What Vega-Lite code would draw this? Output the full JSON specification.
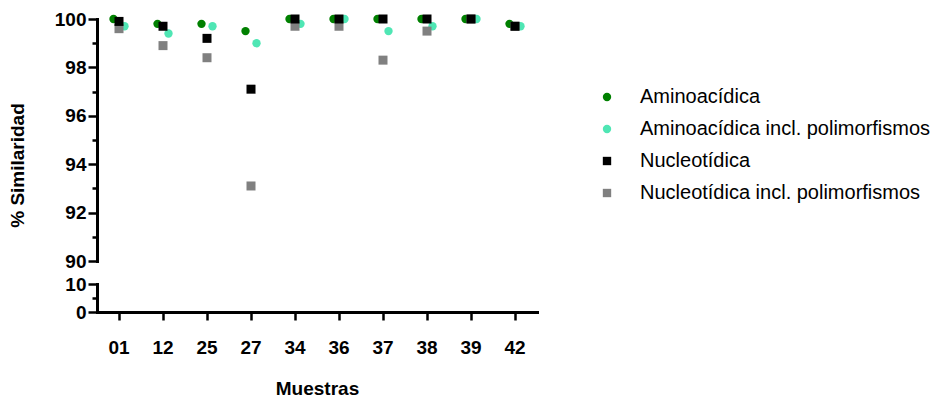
{
  "$schema": "https://vega.github.io/schema/vega-lite/v6.json",
  "background": "white",
  "padding": {"left": 8, "top": 10, "right": 5, "bottom": 5},
  "config": {
    "view": {"stroke": null},
    "font": "Liberation Sans",
    "axis": {
      "grid": false,
      "domainColor": "black",
      "domainWidth": 3,
      "domainCap": "square",
      "tickColor": "black",
      "tickWidth": 2.5,
      "labelFont": "Liberation Sans",
      "labelFontWeight": "bold",
      "labelFontSize": 19,
      "labelColor": "black",
      "titleFont": "Liberation Sans",
      "titleFontWeight": "bold",
      "titleFontSize": 19,
      "titleColor": "black"
    },
    "legend": {
      "orient": "none",
      "legendX": 500,
      "legendY": 68,
      "labelFont": "Liberation Sans",
      "labelFontSize": 20,
      "labelColor": "black",
      "labelLimit": 0,
      "symbolSize": 70,
      "symbolStrokeWidth": 0,
      "rowPadding": 12,
      "labelOffset": 23
    }
  },
  "datasets": {
    "similaridad": [
      {"muestra": "01", "serie": "Aminoacídica", "valor": 100.0},
      {"muestra": "12", "serie": "Aminoacídica", "valor": 99.8},
      {"muestra": "25", "serie": "Aminoacídica", "valor": 99.8},
      {"muestra": "27", "serie": "Aminoacídica", "valor": 99.5},
      {"muestra": "34", "serie": "Aminoacídica", "valor": 100.0},
      {"muestra": "36", "serie": "Aminoacídica", "valor": 100.0},
      {"muestra": "37", "serie": "Aminoacídica", "valor": 100.0},
      {"muestra": "38", "serie": "Aminoacídica", "valor": 100.0},
      {"muestra": "39", "serie": "Aminoacídica", "valor": 100.0},
      {"muestra": "42", "serie": "Aminoacídica", "valor": 99.8},
      {"muestra": "01", "serie": "Aminoacídica incl. polimorfismos", "valor": 99.7},
      {"muestra": "12", "serie": "Aminoacídica incl. polimorfismos", "valor": 99.4},
      {"muestra": "25", "serie": "Aminoacídica incl. polimorfismos", "valor": 99.7},
      {"muestra": "27", "serie": "Aminoacídica incl. polimorfismos", "valor": 99.0},
      {"muestra": "34", "serie": "Aminoacídica incl. polimorfismos", "valor": 99.8},
      {"muestra": "36", "serie": "Aminoacídica incl. polimorfismos", "valor": 100.0},
      {"muestra": "37", "serie": "Aminoacídica incl. polimorfismos", "valor": 99.5},
      {"muestra": "38", "serie": "Aminoacídica incl. polimorfismos", "valor": 99.7},
      {"muestra": "39", "serie": "Aminoacídica incl. polimorfismos", "valor": 100.0},
      {"muestra": "42", "serie": "Aminoacídica incl. polimorfismos", "valor": 99.7},
      {"muestra": "01", "serie": "Nucleotídica incl. polimorfismos", "valor": 99.6},
      {"muestra": "12", "serie": "Nucleotídica incl. polimorfismos", "valor": 98.9},
      {"muestra": "25", "serie": "Nucleotídica incl. polimorfismos", "valor": 98.4},
      {"muestra": "27", "serie": "Nucleotídica incl. polimorfismos", "valor": 93.1},
      {"muestra": "34", "serie": "Nucleotídica incl. polimorfismos", "valor": 99.7},
      {"muestra": "36", "serie": "Nucleotídica incl. polimorfismos", "valor": 99.7},
      {"muestra": "37", "serie": "Nucleotídica incl. polimorfismos", "valor": 98.3},
      {"muestra": "38", "serie": "Nucleotídica incl. polimorfismos", "valor": 99.5},
      {"muestra": "39", "serie": "Nucleotídica incl. polimorfismos", "valor": 100.0},
      {"muestra": "42", "serie": "Nucleotídica incl. polimorfismos", "valor": 99.7},
      {"muestra": "01", "serie": "Nucleotídica", "valor": 99.9},
      {"muestra": "12", "serie": "Nucleotídica", "valor": 99.7},
      {"muestra": "25", "serie": "Nucleotídica", "valor": 99.2},
      {"muestra": "27", "serie": "Nucleotídica", "valor": 97.1},
      {"muestra": "34", "serie": "Nucleotídica", "valor": 100.0},
      {"muestra": "36", "serie": "Nucleotídica", "valor": 100.0},
      {"muestra": "37", "serie": "Nucleotídica", "valor": 100.0},
      {"muestra": "38", "serie": "Nucleotídica", "valor": 100.0},
      {"muestra": "39", "serie": "Nucleotídica", "valor": 100.0},
      {"muestra": "42", "serie": "Nucleotídica", "valor": 99.7}
    ]
  },
  "bounds": "flush",
  "spacing": 23,
  "resolve": {"scale": {"y": "independent", "x": "shared"}},
  "vconcat": [
    {
      "width": 440,
      "height": 242,
      "data": {"name": "similaridad"},
      "encoding": {
        "x": {
          "field": "muestra",
          "type": "nominal",
          "scale": {"type": "band", "paddingInner": 0, "paddingOuter": 0},
          "axis": null
        },
        "y": {
          "field": "valor",
          "type": "quantitative",
          "scale": {"domain": [90, 100], "nice": false, "zero": false},
          "axis": {
            "values": [90, 91, 92, 93, 94, 95, 96, 97, 98, 99, 100],
            "labelExpr": "datum.value % 2 === 0 ? datum.label : ''",
            "tickSize": {"condition": {"test": "datum.value % 2 !== 0", "value": 5}, "value": 9},
            "labelPadding": 2,
            "title": "% Similaridad",
            "titleY": 146,
            "titlePadding": 27
          }
        },
        "color": {
          "field": "serie",
          "type": "nominal",
          "scale": {
            "domain": ["Aminoacídica", "Aminoacídica incl. polimorfismos", "Nucleotídica", "Nucleotídica incl. polimorfismos"],
            "range": ["#008000", "#4fe6b4", "#000000", "#808080"]
          },
          "legend": {"title": null}
        },
        "shape": {
          "field": "serie",
          "type": "nominal",
          "scale": {
            "domain": ["Aminoacídica", "Aminoacídica incl. polimorfismos", "Nucleotídica", "Nucleotídica incl. polimorfismos"],
            "range": ["circle", "circle", "square", "square"]
          },
          "legend": {"title": null}
        }
      },
      "layer": [
        {
          "transform": [{"filter": "indexof(datum.serie, 'Amino') === 0"}],
          "mark": {"type": "point", "filled": true, "opacity": 1, "size": 70},
          "encoding": {
            "xOffset": {
              "field": "serie",
              "type": "nominal",
              "scale": {"type": "band", "paddingInner": 0, "paddingOuter": 1}
            }
          }
        },
        {
          "transform": [{"filter": "indexof(datum.serie, 'Nucleo') === 0"}],
          "mark": {"type": "point", "filled": true, "opacity": 1, "size": 81}
        }
      ]
    },
    {
      "width": 440,
      "height": 28,
      "data": {"name": "similaridad"},
      "mark": {"type": "point", "opacity": 0, "clip": true},
      "encoding": {
        "x": {
          "field": "muestra",
          "type": "nominal",
          "scale": {"type": "band", "paddingInner": 0, "paddingOuter": 0},
          "axis": {"title": "Muestras", "labelAngle": 0, "tickSize": 8, "labelPadding": 18, "titlePadding": 22}
        },
        "y": {
          "field": "valor",
          "type": "quantitative",
          "scale": {"domain": [0, 10], "nice": false},
          "axis": {
            "values": [0, 5, 10],
            "labelExpr": "datum.value === 5 ? '' : datum.label",
            "tickSize": {"condition": {"test": "datum.value === 5", "value": 5}, "value": 9},
            "labelPadding": 2,
            "title": null
          }
        }
      }
    }
  ]
}
